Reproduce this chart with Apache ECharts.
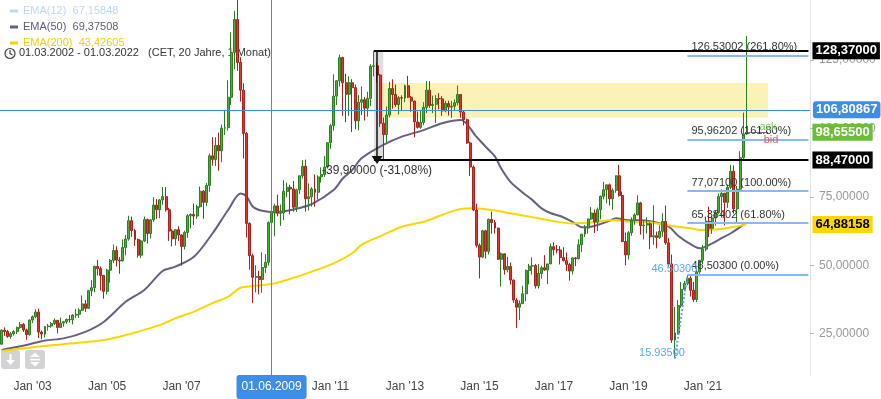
<!DOCTYPE html>
<html>
<head>
<meta charset="utf-8">
<script src="https://cdn.jsdelivr.net/npm/echarts@6/dist/echarts.min.js"></script>
<style>
  html, body { margin: 0; padding: 0; background: #fff; }
  #chart { width: 881px; height: 399px; }
</style>
</head>
<body>
<div id="chart"></div>
<script>
// monthly candles, 2002-03 .. 2022-03
const opens = [
  21.2, 26.3, 25.8, 24.0, 25.0, 25.8, 27.3, 28.4, 26.4, 24.7,
  30.0, 31.2, 32.9, 25.6, 24.9, 27.6, 27.8, 28.7, 29.9, 27.3, 28.9, 29.4,
  30.2, 30.1, 31.8, 32.1, 33.6, 35.9, 34.3, 40.7, 41.8, 49.6, 48.8, 46.3,
  40.5, 48.2, 51.8, 55.4, 51.9, 51.6, 56.5, 59.6, 66.3, 62.7, 59.4, 53.7,
  58.9, 66.7, 61.6, 66.6, 72.0, 70.3, 73.9, 75.1, 70.3, 62.5, 59.7, 63.0,
  61.1, 56.9, 62.0, 68.1, 68.6, 68.0, 71.4, 77.1, 73.0, 79.2, 90.0, 88.7,
  93.8, 91.8, 100.1, 100.3, 111.4, 127.8, 139.8, 124.1, 114.0, 98.2, 65.3, 53.5,
  45.6, 45.9, 44.8, 49.2, 51.1, 65.6, 69.3, 71.7, 69.0, 69.1, 77.0, 78.5,
  77.9, 71.2, 77.6, 82.7, 86.2, 74.3, 75.0, 77.9, 76.7, 82.3, 83.2, 85.9,
  94.8, 101.0, 111.8, 117.4, 125.9, 116.7, 112.5, 116.7, 114.9, 102.8, 109.6, 110.5,
  107.4, 111.0, 122.7, 122.9, 119.5, 101.9, 97.8, 104.9, 114.6, 112.4, 108.7, 111.2,
  111.1, 115.6, 111.4, 110.0, 102.4, 100.4, 102.2, 107.7, 114.0, 108.4, 108.8, 110.9,
  110.8, 106.4, 109.1, 107.8, 108.1, 109.4, 112.4, 106.0, 103.2, 94.7, 85.9, 70.2,
  57.3, 53.0, 62.6, 55.1, 66.8, 65.6, 63.6, 52.2, 54.2, 48.4, 49.6, 44.6,
  37.3, 34.7, 36.0, 39.6, 48.1, 49.7, 49.9, 42.5, 47.0, 49.1, 48.3, 50.5,
  56.8, 55.7, 55.6, 52.8, 51.7, 50.3, 47.9, 52.7, 52.4, 57.5, 61.4, 63.6,
  66.9, 69.1, 65.8, 70.3, 75.2, 77.6, 79.4, 74.3, 77.4, 82.7, 75.5, 58.7,
  53.8, 61.9, 66.3, 68.4, 72.8, 64.5, 64.7, 65.2, 60.4, 60.8, 60.2, 62.4,
  66.0, 58.2, 50.5, 22.7, 25.3, 35.3, 41.2, 43.3, 45.3, 40.9, 37.5, 47.6,
  51.8, 55.9, 66.1, 63.5, 67.3, 69.3, 75.1, 76.3, 73.0, 78.5, 84.4, 70.6,
  77.8, 89.3, 98.0
];
const highs = [
  26.6, 27.3, 26.4, 25.6, 26.3, 27.6, 29.3, 28.9, 26.8, 30.2,
  31.7, 33.9, 34.2, 26.2, 27.8, 28.6, 29.3, 30.6, 30.0, 30.9, 29.7, 30.6,
  31.8, 32.1, 34.1, 34.3, 39.0, 37.3, 41.0, 44.6, 49.8, 52.0, 49.6, 46.5,
  48.7, 52.3, 57.6, 57.0, 53.0, 59.4, 61.1, 68.1, 67.8, 63.3, 59.8, 59.3,
  67.8, 67.1, 66.9, 74.9, 74.2, 74.2, 78.6, 78.6, 71.0, 63.2, 63.2, 64.3,
  61.3, 62.6, 68.7, 69.0, 72.6, 72.1, 78.8, 77.5, 80.1, 90.8, 96.8, 96.8,
  98.5, 101.4, 106.5, 117.6, 135.1, 143.0, 147.5, 126.0, 116.5, 98.7, 65.7, 54.3,
  50.0, 48.0, 54.7, 54.1, 66.0, 72.2, 72.5, 75.8, 72.2, 81.1, 80.2, 79.4,
  80.8, 78.0, 82.7, 88.4, 88.6, 79.9, 78.6, 83.2, 82.9, 85.8, 89.9, 94.8,
  101.7, 119.8, 117.6, 127.0, 126.2, 120.0, 119.0, 118.0, 116.1, 112.2, 115.4, 111.5,
  113.4, 123.5, 128.37, 124.0, 119.9, 104.0, 108.0, 117.0, 117.95, 116.0, 111.8, 112.1,
  116.0, 119.2, 111.9, 110.2, 106.2, 106.8, 109.6, 117.3, 117.3, 112.0, 112.2, 112.9,
  111.8, 110.1, 110.1, 110.1, 110.6, 115.7, 112.6, 106.4, 103.6, 95.2, 86.5, 72.5,
  58.0, 63.0, 63.0, 67.1, 69.6, 66.5, 63.7, 54.7, 54.3, 53.1, 51.0, 44.8,
  38.0, 37.2, 42.5, 48.5, 50.5, 52.9, 50.5, 50.5, 49.8, 53.7, 50.5, 57.9,
  58.4, 57.4, 57.0, 56.6, 54.7, 50.9, 52.9, 53.0, 59.5, 61.4, 64.7, 67.1,
  71.3, 70.4, 71.1, 75.5, 80.5, 79.5, 79.9, 78.1, 82.8, 86.7, 76.9, 62.0,
  62.5, 67.5, 69.0, 75.6, 73.2, 66.6, 67.5, 65.7, 71.95, 62.3, 64.6, 68.99,
  71.8, 59.9, 53.9, 34.8, 37.3, 43.9, 44.3, 46.503, 46.0, 43.9, 48.5, 52.0,
  57.4, 67.7, 71.4, 68.0, 70.0, 76.2, 77.8, 76.5, 79.5, 86.7, 86.5, 79.0,
  91.7, 105.8, 133.8
];
const lows = [
  20.9, 24.2, 23.5, 23.2, 24.3, 24.9, 26.8, 25.6, 22.8, 24.3,
  28.9, 30.7, 23.4, 23.0, 23.6, 26.1, 27.2, 28.2, 25.1, 27.1, 27.6, 28.6,
  29.1, 28.4, 30.8, 30.8, 33.3, 33.0, 34.0, 38.7, 40.2, 46.3, 40.8, 37.8,
  39.4, 43.7, 50.8, 49.6, 46.9, 51.4, 53.6, 59.0, 60.4, 57.1, 52.8, 52.6,
  58.5, 58.0, 59.8, 65.8, 67.0, 67.2, 72.1, 69.6, 58.9, 56.9, 57.2, 58.9,
  49.9, 55.8, 60.1, 63.5, 64.7, 67.0, 71.0, 67.0, 71.6, 76.9, 86.4, 86.3,
  84.6, 87.7, 97.6, 99.2, 108.6, 121.6, 121.0, 109.8, 89.0, 60.1, 48.4, 36.2,
  40.1, 39.4, 39.9, 47.2, 49.9, 64.5, 60.6, 67.9, 64.4, 66.5, 74.9, 68.6,
  69.6, 69.5, 76.1, 81.7, 69.6, 70.0, 71.4, 71.4, 74.0, 80.2, 82.3, 85.3,
  92.6, 99.2, 108.5, 115.3, 104.6, 102.3, 104.6, 98.7, 99.7, 99.3, 104.9, 102.9,
  104.3, 108.2, 119.0, 116.7, 100.6, 88.47, 94.8, 104.0, 107.2, 107.9, 105.1, 106.4,
  109.6, 111.1, 106.1, 96.8, 100.0, 99.9, 101.2, 105.6, 107.5, 105.6, 102.0, 107.0,
  104.6, 105.9, 104.7, 103.9, 106.6, 108.4, 103.9, 101.1, 94.3, 82.6, 69.8, 56.5,
  45.2, 52.7, 52.5, 54.0, 61.6, 61.6, 51.9, 42.2, 46.6, 47.4, 42.9, 36.3,
  27.1, 30.0, 35.9, 36.9, 43.0, 46.6, 41.5, 41.5, 45.1, 48.0, 43.1, 50.5,
  53.6, 54.3, 50.3, 51.4, 47.9, 44.4, 46.6, 49.7, 52.1, 54.9, 60.3, 61.6,
  66.6, 61.8, 62.5, 66.8, 74.1, 72.6, 71.8, 70.3, 76.5, 75.1, 58.4, 50.0,
  52.1, 60.8, 64.8, 68.3, 61.2, 59.5, 61.6, 55.9, 57.5, 56.2, 59.6, 60.4,
  57.5, 49.5, 21.65, 15.935, 24.7, 34.5, 41.1, 42.7, 38.6, 36.6, 36.6, 46.9,
  50.4, 55.2, 60.3, 61.5, 64.5, 68.8, 67.4, 64.6, 71.0, 77.8, 68.9, 65.7,
  76.9, 88.1, 97.6
];
const closes = [
  26.3, 25.8, 24.0, 25.0, 25.8, 27.3, 28.4, 26.4, 24.7, 30.0,
  31.2, 32.9, 25.6, 24.9, 27.6, 27.8, 28.7, 29.9, 27.3, 28.9, 29.4, 30.2,
  30.1, 31.8, 32.1, 33.6, 35.9, 34.3, 40.7, 41.8, 49.6, 48.8, 46.3, 40.5,
  48.2, 51.8, 55.4, 51.9, 51.6, 56.5, 59.6, 66.3, 62.7, 59.4, 53.7, 58.9,
  66.7, 61.6, 66.6, 72.0, 70.3, 73.9, 75.1, 70.3, 62.5, 59.7, 63.0, 61.1,
  56.9, 62.0, 68.1, 68.6, 68.0, 71.4, 77.1, 73.0, 79.2, 90.0, 88.7, 93.8,
  91.8, 100.1, 100.3, 111.4, 127.8, 139.8, 124.1, 114.0, 98.2, 65.3, 53.5, 45.6,
  45.9, 44.8, 49.2, 51.1, 65.6, 69.3, 71.7, 69.0, 69.1, 77.0, 78.5, 77.9,
  71.2, 77.6, 82.7, 86.2, 74.3, 75.0, 77.9, 76.7, 82.3, 83.2, 85.9, 94.8,
  101.0, 111.8, 117.4, 125.9, 116.7, 112.5, 116.7, 114.9, 102.8, 109.6, 110.5, 107.4,
  111.0, 122.7, 122.9, 119.5, 101.9, 97.8, 104.9, 114.6, 112.4, 108.7, 111.2, 111.1,
  115.6, 111.4, 110.0, 102.4, 100.4, 102.2, 107.7, 114.0, 108.4, 108.8, 110.9, 110.8,
  106.4, 109.1, 107.8, 108.1, 109.4, 112.4, 106.0, 103.2, 94.7, 85.9, 70.2, 57.3,
  53.0, 62.6, 55.1, 66.8, 65.6, 63.6, 52.2, 54.2, 48.4, 49.6, 44.6, 37.3,
  34.7, 36.0, 39.6, 48.1, 49.7, 49.9, 42.5, 47.0, 49.1, 48.3, 50.5, 56.8,
  55.7, 55.6, 52.8, 51.7, 50.3, 47.9, 52.7, 52.4, 57.5, 61.4, 63.6, 66.9,
  69.1, 65.8, 70.3, 75.2, 77.6, 79.4, 74.3, 77.4, 82.7, 75.5, 58.7, 53.8,
  61.9, 66.3, 68.4, 72.8, 64.5, 64.7, 65.2, 60.4, 60.8, 60.2, 62.4, 66.0,
  58.2, 50.5, 22.7, 25.3, 35.3, 41.2, 43.3, 45.3, 40.9, 37.5, 47.6, 51.8,
  55.9, 66.1, 63.5, 67.3, 69.3, 75.1, 76.3, 73.0, 78.5, 84.4, 70.6, 77.8,
  89.3, 98.0, 98.655
];

// EMA lines
const ema50 = [
  ['2002-03', 19.1], ['2002-11', 20.9], ['2003-05', 22.5], ['2003-11', 23.3], ['2004-06', 25.7],
  ['2004-12', 29.4], ['2005-07', 36.7], ['2006-01', 41.0], ['2006-07', 48.0], ['2006-11', 49.5],
  ['2007-05', 53.1], ['2007-11', 61.7], ['2008-04', 70.2], ['2008-08', 76.2], ['2008-10', 75.1],
  ['2008-12', 71.4], ['2009-03', 69.9], ['2009-07', 69.4], ['2010-01', 70.4], ['2010-07', 72.4],
  ['2011-02', 77.5], ['2011-05', 81.8], ['2011-08', 84.8], ['2011-11', 89.1], ['2012-06', 94.0],
  ['2012-12', 97.0], ['2013-07', 99.4], ['2014-01', 101.9], ['2014-07', 103.1], ['2014-12', 97.0],
  ['2015-03', 93.3], ['2015-06', 89.7], ['2015-08', 85.4], ['2015-11', 80.5], ['2016-03', 76.5],
  ['2016-06', 73.9], ['2016-09', 70.8], ['2016-12', 69.0], ['2017-03', 68.0], ['2017-07', 65.9],
  ['2017-10', 63.9], ['2018-01', 64.1], ['2018-04', 65.1], ['2018-07', 66.3], ['2018-09', 67.2],
  ['2019-01', 66.5], ['2019-05', 66.5], ['2019-09', 65.9], ['2020-02', 64.1], ['2020-05', 60.8],
  ['2020-09', 57.7], ['2020-12', 56.2], ['2021-04', 58.0], ['2021-07', 59.9], ['2021-10', 61.7],
  ['2022-03', 65.6]
];
const ema200 = [
  ['2002-03', 18.7], ['2003-03', 20.3], ['2004-02', 21.5], ['2004-12', 22.7], ['2005-07', 24.5],
  ['2006-01', 26.4], ['2006-07', 28.6], ['2006-11', 30.6], ['2007-05', 33.1], ['2007-11', 36.2],
  ['2008-04', 38.5], ['2008-08', 41.8], ['2008-12', 42.4], ['2009-07', 43.4], ['2010-01', 45.4],
  ['2010-07', 47.7], ['2011-02', 50.7], ['2011-08', 54.4], ['2011-11', 57.5], ['2012-06', 61.1],
  ['2012-12', 64.1], ['2013-07', 65.9], ['2014-01', 68.4], ['2014-07', 70.6], ['2014-11', 70.8],
  ['2015-05', 70.2], ['2015-11', 69.0], ['2016-06', 67.6], ['2016-12', 66.3], ['2017-07', 65.3],
  ['2018-01', 65.6], ['2018-07', 66.5], ['2019-02', 65.9], ['2019-08', 65.6], ['2020-03', 64.4],
  ['2020-09', 63.5], ['2020-12', 62.9], ['2021-07', 63.3], ['2022-01', 64.4], ['2022-03', 64.88]
];

const legendValues = { 'EMA(12)': '67,15848', 'EMA(50)': '69,37508', 'EMA(200)': '43,42605' };
const fibLevels = [126.53002, 95.96202, 77.071, 65.38402, 46.503];
const fibTexts = ['126,53002 (261.80%)', '95,96202 (161.80%)', '77,07100 (100.00%)', '65,38402 (61.80%)', '46,50300 (0.00%)'];
const yTicks = [25, 50, 75, 100, 125];

// month categories incl. empty space on the right
const categories = [];
for (let k = 0; k < 261; k++) {
  const m = 2 + k;
  categories.push((2002 + Math.floor(m / 12)) + '-' + String(m % 12 + 1).padStart(2, '0'));
}
const lastCat = categories[categories.length - 1];

const candles = opens.map((o, i) => [o, closes[i], lows[i], highs[i]]);

const tag = (txt, bg, fg) => ({
  show: true, position: 'end', formatter: txt, backgroundColor: bg, color: fg,
  fontWeight: 'bold', fontSize: 13, padding: [2, 3, 2, 3], distance: 4
});
const clear = 'rgba(0,0,0,0)';

const markLines = [
  [{ coord: ['2012-03', 128.37], lineStyle: { color: '#000', width: 2 }, label: tag('128,37000', '#000', '#fff') },
   { coord: [lastCat, 128.37] }],
  [{ coord: ['2012-03', 88.47], lineStyle: { color: '#000', width: 2 }, label: tag('88,47000', '#000', '#fff') },
   { coord: [lastCat, 88.47] }],
  [{ coord: ['2012-04', 128.37], symbol: 'none', lineStyle: { color: '#111', width: 1.5 },
     label: { show: true, position: 'end', formatter: '-39,90000 (-31,08%)', color: '#333', fontSize: 12, distance: 5 } },
   { coord: ['2012-04', 88.47], symbol: 'triangle', symbolSize: [11, 8] }],
  [{ coord: ['2020-04', 15.935], lineStyle: { color: '#5ea8f2', type: 'dotted', width: 2 } },
   { coord: ['2020-08', 46.503] }],
  [{ coord: ['2022-03', 98.655], lineStyle: { color: '#777', width: 1 } },
   { coord: ['2022-10', 98.655] }],
  [{ coord: ['2022-03', 98.655], lineStyle: { color: clear }, label: tag('98,65500', '#6bbd3b', '#fff') },
   { coord: [lastCat, 98.655] }],
  [{ coord: ['2022-03', 64.88158], lineStyle: { color: clear }, label: tag('64,88158', '#ffd600', '#000') },
   { coord: [lastCat, 64.88158] }]
];
fibLevels.forEach((v, i) => {
  markLines.push([
    { coord: ['2020-08', v], lineStyle: { color: '#86baf0', width: 2 },
      label: { show: true, position: 'insideStartTop', formatter: fibTexts[i], color: '#333', fontSize: 11, distance: [4, 3] } },
    { coord: [lastCat, v] }
  ]);
});

const pointLabel = (txt, color, offset) => ({
  show: true, position: 'inside', formatter: txt, color: color, fontSize: 11, offset: offset
});

const chart = echarts.init(document.getElementById('chart'));
chart.setOption({
  animation: false,
  backgroundColor: '#ffffff',
  textStyle: { fontFamily: 'Liberation Sans, Arial, sans-serif' },
  grid: { left: -7, right: 71, top: 0, bottom: 24 },
  legend: {
    orient: 'vertical', left: 5, top: 0, itemGap: 4, itemWidth: 8, itemHeight: 3,
    icon: 'rect', selectedMode: false,
    textStyle: { fontSize: 11, lineHeight: 12 },
    formatter: name => name + '  ' + legendValues[name],
    data: [
      { name: 'EMA(12)', textStyle: { color: '#bcd9f6' } },
      { name: 'EMA(50)', textStyle: { color: '#5f5a7c' } },
      { name: 'EMA(200)', textStyle: { color: '#f2d000' } }
    ]
  },
  graphic: [
    { type: 'circle', shape: { cx: 10, cy: 53.5, r: 5 }, style: { fill: 'none', stroke: '#444', lineWidth: 1.2 } },
    { type: 'polyline', shape: { points: [[10, 50], [10, 53.5], [12.5, 55]] }, style: { fill: 'none', stroke: '#444', lineWidth: 1.2 } },
    { type: 'text', left: 19, top: 47, style: { text: '01.03.2002 - 01.03.2022   (CET, 20 Jahre, 1 Monat)', fill: '#333', fontSize: 11, fontFamily: 'Liberation Sans, Arial, sans-serif' } },
    { type: 'rect', shape: { x: 1, y: 350, width: 19, height: 19, r: 3 }, style: { fill: '#d3d3d3' } },
    { type: 'polyline', shape: { points: [[10.5, 354], [10.5, 363]] }, style: { stroke: '#fff', lineWidth: 2 } },
    { type: 'polygon', shape: { points: [[6, 360], [15, 360], [10.5, 365]] }, style: { fill: '#fff' } },
    { type: 'rect', shape: { x: 25, y: 350, width: 20, height: 19, r: 3 }, style: { fill: '#d3d3d3' } },
    { type: 'polygon', shape: { points: [[30, 357], [40, 357], [35, 352.5]] }, style: { fill: '#fff' } },
    { type: 'polygon', shape: { points: [[30, 362], [40, 362], [35, 366.5]] }, style: { fill: '#fff' } },
    { type: 'rect', shape: { x: 30, y: 358.8, width: 10, height: 1.6 }, style: { fill: '#fff' } }
  ],
  xAxis: {
    type: 'category', data: categories, boundaryGap: true,
    axisLine: { show: false }, axisTick: { show: false }, splitLine: { show: false },
    axisLabel: {
      interval: (i, v) => v.endsWith('-01') && (+v.slice(0, 4)) % 2 === 1 && +v.slice(0, 4) <= 2021,
      formatter: v => "Jan '" + v.slice(2, 4), color: '#444', fontSize: 12, margin: 6
    },
    axisPointer: {
      show: true, type: 'line', value: categories.indexOf('2009-06'), status: 'show', snap: false, triggerTooltip: false,
      lineStyle: { color: '#3d8ee8', width: 1, type: 'solid' },
      label: { show: true, formatter: '01.06.2009', backgroundColor: '#3d8ee8', color: '#fff', fontSize: 12, padding: [6, 5, 6, 5], margin: 0 }
    }
  },
  yAxis: {
    type: 'value', position: 'right', min: 9.92, max: 146.93, scale: true,
    splitLine: { show: false },
    axisLine: { show: true, lineStyle: { color: '#e3e3e3' } },
    axisTick: { show: true, customValues: yTicks, length: 4, lineStyle: { color: '#bbb' } },
    axisLabel: { customValues: yTicks, formatter: v => v.toFixed(5).replace('.', ','), color: '#9a9a9a', fontSize: 12, margin: 9 },
    axisPointer: {
      show: true, type: 'line', value: 106.80867, status: 'show', snap: false, triggerTooltip: false,
      lineStyle: { color: '#3d8ee8', width: 1, type: 'solid' },
      label: { show: true, formatter: '106,80867', backgroundColor: '#3d8ee8', color: '#fff', fontWeight: 'bold', fontSize: 13, padding: [2, 3, 2, 3], margin: 3 }
    }
  },
  series: [
    {
      name: 'Brent', type: 'candlestick', data: candles, barWidth: '80%', z: 2,
      itemStyle: { color: '#4cae3c', color0: '#e3342f', borderColor: '#2f7d22', borderColor0: '#a8231d', borderWidth: 1 },
      markArea: {
        silent: true,
        data: [
          [{ coord: ['2012-05', 116.6], itemStyle: { color: '#fdf2b5' } }, { coord: ['2022-10', 104.0] }],
          [{ coord: ['2012-03', 128.37], itemStyle: { color: 'rgba(110,110,110,0.22)' } }, { coord: ['2012-06', 88.47] }]
        ]
      },
      markLine: {
        silent: true, symbol: ['none', 'none'], label: { show: false },
        lineStyle: { type: 'solid' }, emphasis: { disabled: true },
        data: markLines
      },
      markPoint: {
        silent: true, symbol: 'circle', symbolSize: 1, itemStyle: { color: clear },
        data: [
          { coord: ['2020-04', 15.935], label: pointLabel('15.93500', '#5ea8f2', [-13, -5.5]) },
          { coord: ['2020-08', 46.503], label: pointLabel('46.50300', '#5ea8f2', [-13, -6]) },
          { coord: ['2022-09', 98.655], label: pointLabel('ask', '#7cc35a', [3, -5]) },
          { coord: ['2022-09', 98.655], label: pointLabel('bid', '#e25b5b', [6, 8]) }
        ]
      }
    },
    { name: 'EMA(12)', type: 'line', data: [], color: '#bcd9f6', showSymbol: false },
    { name: 'EMA(50)', type: 'line', data: ema50, color: '#67617f', smooth: 0.3, showSymbol: false, z: 1,
      lineStyle: { width: 2, color: '#67617f' } },
    { name: 'EMA(200)', type: 'line', data: ema200, color: '#f5d400', smooth: 0.3, showSymbol: false, z: 1,
      lineStyle: { width: 2, color: '#f7d800' } }
  ]
});
</script>
</body>
</html>
